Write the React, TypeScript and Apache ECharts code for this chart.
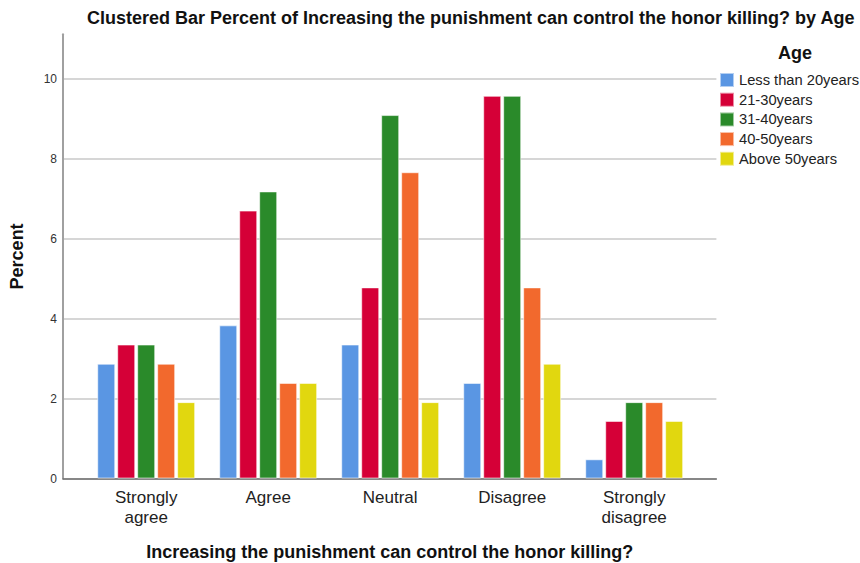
import React, { useEffect, useRef } from "react";
import * as echarts from "echarts";

const categories = ["Strongly\nagree", "Agree", "Neutral", "Disagree", "Strongly\ndisagree"];
const seriesNames = ["Less than 20years", "21-30years", "31-40years", "40-50years", "Above 50years"];
const lessThan20 = [2.87, 3.83, 3.35, 2.39, 0.48];
const age21to30 = [3.35, 6.70, 4.78, 9.57, 1.44];
const age31to40 = [3.35, 7.18, 9.09, 9.57, 1.91];
const age40to50 = [2.87, 2.39, 7.66, 4.78, 1.91];
const above50 = [1.91, 2.39, 1.91, 2.87, 1.44];
const seriesValues = [lessThan20, age21to30, age31to40, age40to50, above50];
const colors = ["#5A96E3", "#D50037", "#2A8A2A", "#F2692D", "#E1D70F"];

const FONT = 'Arial, "Liberation Sans", sans-serif';
const Y_MAX = 11.11;

export default function App() {
  const ref = useRef<HTMLDivElement>(null);
  useEffect(() => {
    if (!ref.current) return;
    const chart = echarts.init(ref.current, null, { renderer: "svg" });
    const option = {
      animation: false,
      backgroundColor: "#ffffff",
      textStyle: { fontFamily: FONT },
      title: [
        {
          text: "Clustered Bar Percent of Increasing the punishment can control the honor killing? by Age",
          left: 82,
          top: 4,
          textStyle: { fontFamily: FONT, fontSize: 18, fontWeight: "bold", color: "#111" },
        },
        {
          text: "Age",
          left: 790,
          textAlign: "center",
          top: 38.5,
          textStyle: { fontFamily: FONT, fontSize: 18, fontWeight: "bold", color: "#111" },
        },
      ],
      legend: {
        data: seriesNames,
        orient: "vertical",
        left: 714,
        top: 67,
        icon: "rect",
        itemWidth: 14,
        itemHeight: 14,
        itemGap: 3.7,
        textStyle: { fontFamily: FONT, fontSize: 14.7, lineHeight: 15, color: "#222" },
      },
      grid: [
        { left: 63, top: 34.3, width: 653.4, height: 444.2, outerBoundsMode: "none", containLabel: false },
        { left: 85.2, top: 34.3, width: 610, height: 444.2, outerBoundsMode: "none", containLabel: false },
      ],
      xAxis: [
        {
          gridIndex: 0,
          type: "value",
          min: 0,
          max: 1,
          axisLine: { show: true, lineStyle: { color: "#6e6e6e", width: 1.5 } },
          axisTick: { show: false },
          axisLabel: { show: false },
          splitLine: { show: false },
          name: "Increasing the punishment can control the honor killing?",
          nameLocation: "middle",
          nameGap: 64,
          nameTextStyle: { fontFamily: FONT, fontSize: 18, fontWeight: "bold", color: "#111" },
        },
        {
          gridIndex: 1,
          type: "category",
          data: categories,
          axisLine: { show: false },
          axisTick: { show: false },
          axisLabel: {
            fontFamily: FONT,
            fontSize: 17,
            lineHeight: 20,
            color: "#222",
            margin: 8.5,
            interval: 0,
          },
        },
      ],
      yAxis: [
        {
          gridIndex: 0,
          type: "value",
          min: 0,
          max: Y_MAX,
          interval: 2,
          axisLine: { show: true, lineStyle: { color: "#a0a0a0", width: 2 } },
          axisTick: { show: false },
          axisLabel: { fontFamily: FONT, fontSize: 12, color: "#333", margin: 6, showMaxLabel: false },
          splitLine: {
            show: true,
            lineStyle: {
              color: ["#c8c8c8", "#c8c8c8", "#c8c8c8", "#c8c8c8", "#c8c8c8", "#c8c8c8", "rgba(0,0,0,0)"],
              width: 1.5,
            },
          },
          name: "Percent",
          nameLocation: "middle",
          nameRotate: 90,
          nameGap: 37,
          nameTextStyle: { fontFamily: FONT, fontSize: 18, fontWeight: "bold", color: "#111" },
        },
        {
          gridIndex: 1,
          type: "value",
          min: 0,
          max: Y_MAX,
          show: false,
          splitLine: { show: false },
        },
      ],
      series: seriesNames.map((name, i) => ({
        name,
        type: "bar",
        xAxisIndex: 1,
        yAxisIndex: 1,
        data: seriesValues[i],
        barWidth: 18,
        barGap: "11%",
        itemStyle: {
          color: colors[i],
          borderColor: "rgba(255,255,255,0.55)",
          borderWidth: 1,
        },
      })),
    };
    chart.setOption(option);
    return () => chart.dispose();
  }, []);
  return (
    <div
      ref={ref}
      style={{ position: "absolute", left: 0, top: 0, width: 860, height: 563 }}
    />
  );
}
